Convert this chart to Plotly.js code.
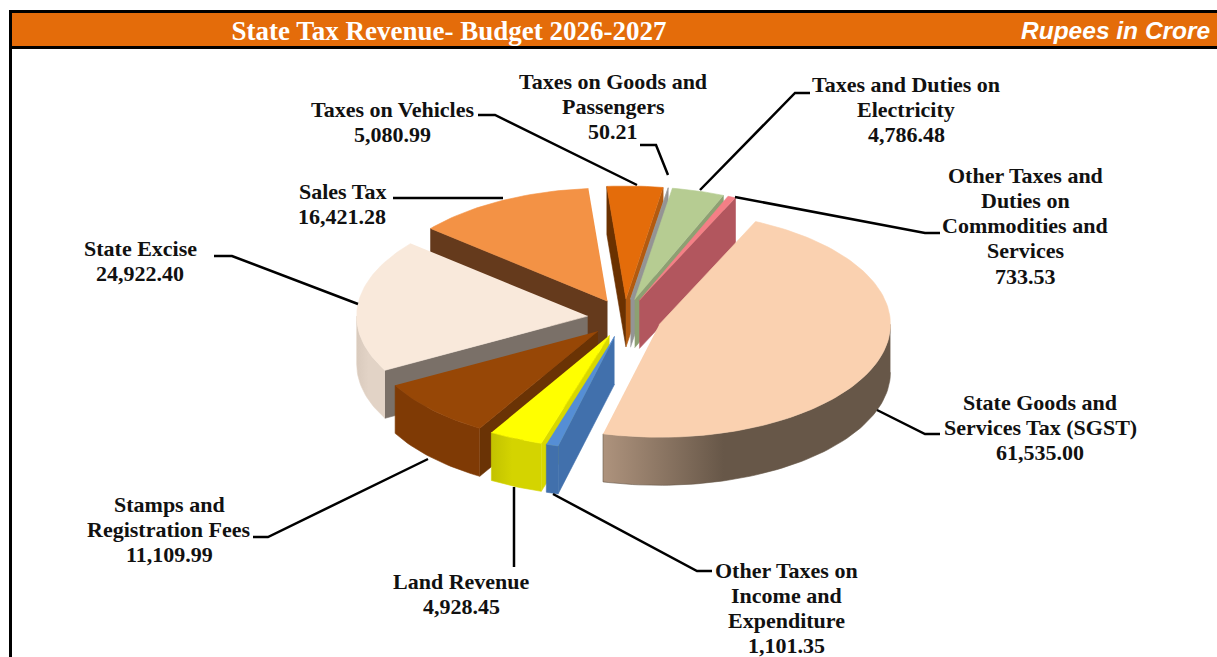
<!DOCTYPE html>
<html><head><meta charset="utf-8">
<script src="https://cdn.plot.ly/plotly-3.0.1.min.js"></script>
<style>html,body{margin:0;padding:0;background:#fff}#chart{width:1217px;height:657px}</style>
</head><body><div id="chart"></div>
<script>
// Data: clockwise from the SGST slice
const categories = ["State Goods and Services Tax (SGST)","Other Taxes on Income and Expenditure","Land Revenue","Stamps and Registration Fees","State Excise","Sales Tax","Taxes on Vehicles","Taxes on Goods and Passengers","Taxes and Duties on Electricity","Other Taxes and Duties on Commodities and Services"];
const values = [61535.00,1101.35,4928.45,11109.99,24922.40,16421.28,5080.99,50.21,4786.48,733.53];
const valueLabels = ["61,535.00","1,101.35","4,928.45","11,109.99","24,922.40","16,421.28","5,080.99","50.21","4,786.48","733.53"];
const labelLines = [["State Goods and","Services Tax (SGST)"],["Other Taxes on","Income and","Expenditure"],["Land Revenue"],["Stamps and","Registration Fees"],["State Excise"],["Sales Tax"],["Taxes on Vehicles"],["Taxes on Goods and","Passengers"],["Taxes and Duties on","Electricity"],["Other Taxes and","Duties on","Commodities and","Services"]];
const topColors = ["#FAD1B0","#558ED5","#FFFF00","#974706","#F9E9DB","#F39245","#E46C0A","#A0A0A0","#B6CC92","#F47F86"];
const sideLeft  = ["#AE937D","#4170AC","#C2C200","#7F3A05","#D9CABD","#653A1C","#6B3100","#8A8A8A","#8DA072","#B2565E"];
const sideRight = ["#675748","#4170AC","#D4D400","#7F3A05","#E2D3C6","#653A1C","#6B3100","#8A8A8A","#8DA072","#B2565E"];
const startWall = ["#675748","#4170AC","#D8D800","#6A3305","#7A7068","#653A1C","#6B3100","#8A8A8A","#8DA072","#B2565E"];
const endWall   = ["#675748","#4170AC","#D8D800","#6A3305","#7A7068","#653A1C","#B35A0F","#949494","#8DA072","#B2565E"];

// Geometry of the tilted pie, in the pixel-sized axis units
const cx=624.5, cy=318, rx=231, ry=113, depth=48, pullX=37, pullY=19, firstAngle=24.6;
const total=values.reduce((a,b)=>a+b,0);
const rad=d=>d*Math.PI/180;

let acc=firstAngle;
const slices=values.map((v,i)=>{
  const a0=acc, a1=acc+v/total*360; acc=a1;
  const mid=(a0+a1)/2;
  const ax=cx+pullX*Math.sin(rad(mid)), ay=cy-pullY*Math.cos(rad(mid));
  return {i,a0,a1,mid,ax,ay,order:ay-0.5*ry*Math.cos(rad(mid))};
}).sort((p,q)=>p.order-q.order);

function pt(s,a,dz){return [s.ax+rx*Math.sin(rad(a)), s.ay-ry*Math.cos(rad(a))+(dz||0)];}
function poly(points,color,grad){
  const t={type:'scatter',x:points.map(p=>p[0]),y:points.map(p=>p[1]),mode:'lines',fill:'toself',
    line:{color:color,width:0.6},hoverinfo:'skip',showlegend:false};
  if(grad){t.fillgradient=grad;} else {t.fillcolor=color;}
  return t;
}
const traces=[];
slices.forEach(s=>{
  const i=s.i;
  // radial walls, only when they face the viewer
  if(Math.cos(rad(s.a0-90))<0){
    const t=pt(s,s.a0);
    traces.push(poly([[s.ax,s.ay],t,[t[0],t[1]+depth],[s.ax,s.ay+depth]],startWall[i]));
  }
  if(Math.cos(rad(s.a1+90))<0){
    const t=pt(s,s.a1);
    traces.push(poly([[s.ax,s.ay],t,[t[0],t[1]+depth],[s.ax,s.ay+depth]],endWall[i]));
  }
  // outer rim, front half only
  const lo=Math.max(s.a0,90), hi=Math.min(s.a1,270);
  if(hi>lo){
    const up=[],down=[];
    const n=Math.ceil((hi-lo)/1.5);
    for(let k=0;k<=n;k++){const a=lo+(hi-lo)*k/n; up.push(pt(s,a)); down.unshift(pt(s,a,depth));}
    const pts=up.concat(down);
    const xs=pts.map(p=>p[0]);
    const xmin=Math.min(...xs), xmax=Math.max(...xs);
    traces.push(poly(pts,sideRight[i],{type:'horizontal',start:xmin,stop:xmax,
      colorscale:[[0,sideLeft[i]],[0.42,sideRight[i]],[1,sideRight[i]]]}));
  }
  // top face
  const top=[[s.ax,s.ay]];
  const n=Math.max(2,Math.ceil((s.a1-s.a0)/1.5));
  for(let k=0;k<=n;k++) top.push(pt(s,s.a0+(s.a1-s.a0)*k/n));
  traces.push(poly(top,topColors[i]));
});

// Leader lines
const leaders=[
  [[877,410],[925,434],[940,434]],
  [[553,494],[697,571],[712,571]],
  [[514,487],[514,567]],
  [[428,459],[268,537],[253,537]],
  [[358,304],[232,256],[214,256]],
  [[503,198],[393,198]],
  [[637,185],[495,115],[478,115]],
  [[668,175],[656,145],[640,145]],
  [[700,190],[795,93],[810,93]],
  [[735,197],[925,233],[940,233]]
];
leaders.forEach(l=>traces.push({type:'scatter',mode:'lines',x:l.map(p=>p[0]),y:l.map(p=>p[1]),
  line:{color:'#000',width:2.5},hoverinfo:'skip',showlegend:false}));

// Label centre x and first-line centre y
const labelX=[1040,786,461,169,140,342,392,613,906,1025];
const labelY=[402,570,581,504,248,191,109,81,84,175];
const linePitch=25.3;
const annotations=[];
categories.forEach((c,i)=>{
  labelLines[i].concat([valueLabels[i]]).forEach((line,k)=>{
    annotations.push({x:labelX[i],y:labelY[i]+k*linePitch,xref:'x',yref:'y',showarrow:false,xanchor:'center',yanchor:'middle',
      text:'<b>'+line+'</b>',font:{family:'"Liberation Serif",serif',size:22,color:'#111'}});
  });
});
annotations.push({x:1211.5,y:30,xref:'x',yref:'y',showarrow:false,xanchor:'right',yanchor:'middle',
  text:'<b><i>Rupees in Crore</i></b>',font:{family:'"Liberation Sans",sans-serif',size:24.5,color:'#fff'}});

const layout={
  width:1217,height:657,margin:{l:0,r:0,t:0,b:0},paper_bgcolor:'#fff',plot_bgcolor:'#fff',showlegend:false,
  title:{text:'<b>State Tax Revenue- Budget 2026-2027</b>',x:449/1217,xanchor:'center',y:1-31/657,yanchor:'middle',
    font:{family:'"Liberation Serif",serif',size:27,color:'#fff'}},
  xaxis:{visible:false,range:[0,1217],fixedrange:true},
  yaxis:{visible:false,range:[657,0],fixedrange:true},
  annotations:annotations,
  shapes:[
    {type:'rect',xref:'x',yref:'y',x0:9,x1:12,y0:10,y1:657,fillcolor:'#000',line:{width:0},layer:'below'},
    {type:'rect',xref:'x',yref:'y',x0:9,x1:1217,y0:10,y1:49,fillcolor:'#000',line:{width:0},layer:'below'},
    {type:'rect',xref:'x',yref:'y',x0:12,x1:1217,y0:13,y1:46,fillcolor:'#E46C0A',line:{width:0},layer:'below'}
  ]
};
Plotly.newPlot('chart',traces,layout,{displayModeBar:false,staticPlot:true});
</script></body></html>
